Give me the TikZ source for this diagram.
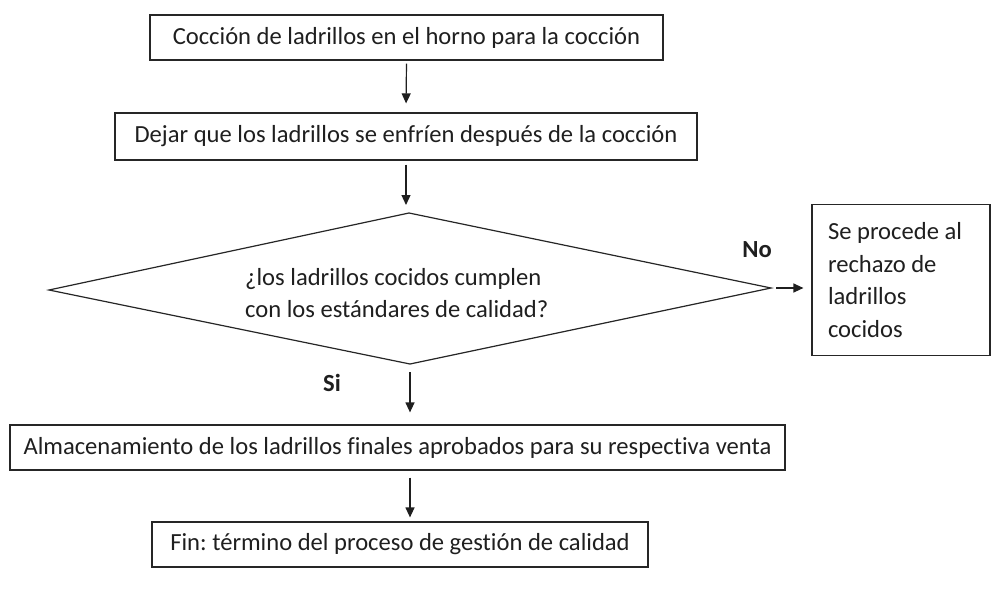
\documentclass[tikz,border=0pt]{standalone}
\usepackage{fontspec}
\setmainfont{Carlito}[Ligatures={NoCommon,NoContextual}]
\usetikzlibrary{arrows.meta}
\frenchspacing
\begin{document}
\begin{tikzpicture}[x=1pt,y=-1pt,
  txt/.style={font=\fontsize{24.6}{32.5}\selectfont, text=black!88},
  box/.style={txt, draw=black!85, line width=1.2pt, inner sep=0pt, align=center},
  arr/.style={-{Triangle[length=10pt,width=9pt]}, line width=1.2pt, draw=black!88},
  lbl/.style={txt, font=\fontsize{24.6}{32.5}\selectfont\bfseries}]
\useasboundingbox (0,0) rectangle (992,594);
\fill[white] (0,0) rectangle (992,594);
\node[box, minimum width=513pt, minimum height=45pt] (b1) at (406.5,37.5)
  {Cocción de ladrillos en el horno para la cocción};
\node[box, minimum width=582pt, minimum height=47pt] (b2) at (406,136.5)
  {Dejar que los ladrillos se enfríen después de la cocción};
\coordinate (dt) at (409,213);
\coordinate (dl) at (49,290);
\coordinate (dr) at (771,288);
\coordinate (db) at (410,364);
\draw[draw=black!85, line width=1.2pt, line join=miter] (dt) -- (dr) -- (db) -- (dl) -- cycle;
\node[txt, anchor=west, align=flush left, inner sep=0pt] (q) at (245,293)
  {¿los ladrillos cocidos cumplen\\con los estándares de calidad?};
\node[box, minimum width=178pt, minimum height=151pt, text width=146pt, align=flush left] (rb) at (901,280)
  {Se procede al\\rechazo de\\ladrillos\\cocidos};
\node[box, minimum width=775pt, minimum height=45pt] (b4) at (397.5,447.5)
  {Almacenamiento de los ladrillos finales aprobados para su respectiva venta};
\node[box, minimum width=496pt, minimum height=45pt] (b5) at (400,544.5)
  {Fin: término del proceso de gestión de calidad};
\node[lbl] (no) at (757,250) {No};
\node[lbl] (si) at (332,383) {Si};
\draw[arr, shorten <=3pt, shorten >=9pt] (b1.south) -- (b2.north);
\draw[arr, shorten <=4pt, shorten >=8pt] (b2.south) -- (b2.south |- dt);
\draw[arr, shorten <=8pt, shorten >=12pt] (db) -- (db |- b4.north);
\draw[arr, shorten <=7pt, shorten >=4pt] (b4.south -| db) -- (b5.north -| db);
\draw[arr, shorten <=5pt, shorten >=8pt] (dr) -- (dr -| rb.west);
\end{tikzpicture}
\end{document}
